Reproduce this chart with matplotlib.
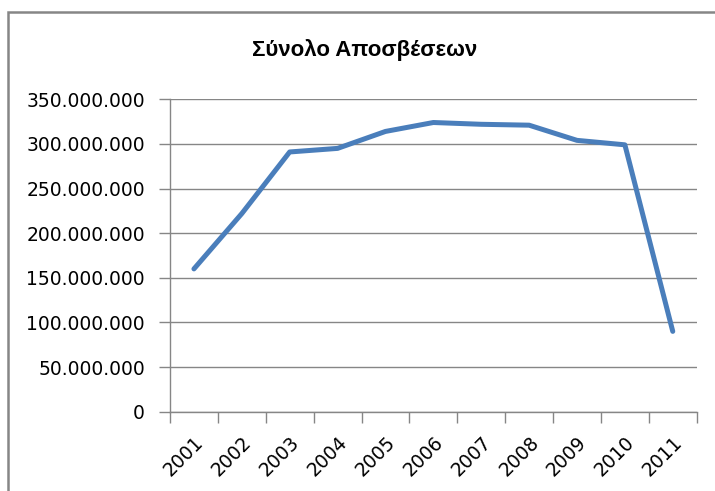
import matplotlib.pyplot as plt
from matplotlib.patches import Rectangle
from matplotlib.ticker import FuncFormatter, FixedLocator
from matplotlib.transforms import ScaledTranslation

years = ["2001", "2002", "2003", "2004", "2005", "2006",
         "2007", "2008", "2009", "2010", "2011"]
# total depreciation per year (euro)
depreciation = [160_000_000, 222_000_000, 291_000_000, 295_000_000, 314_000_000,
                324_000_000, 322_000_000, 321_000_000, 304_000_000, 299_000_000,
                90_000_000]
y_ticks = [0, 50_000_000, 100_000_000, 150_000_000, 200_000_000,
           250_000_000, 300_000_000, 350_000_000]

plt.rcParams["font.family"] = ["DejaVu Sans"]

fig = plt.figure(figsize=(7.15, 4.91), dpi=100)

# chart frame (only left and top edges fall inside the image)
frame = Rectangle((8 / 715, -0.1), 1.2, 1 - 12 / 491 + 0.1,
                  transform=fig.transFigure, fill=False,
                  edgecolor="#868686", linewidth=1.8)
fig.add_artist(frame)

ax = fig.add_axes([170 / 715, 1 - 411.7 / 491, (696.7 - 170) / 715,
                   (411.7 - 99.3) / 491])

x = list(range(len(years)))
ax.plot(x, depreciation, color="#4A7EBB", linewidth=3.6,
        solid_joinstyle="round", solid_capstyle="round", zorder=3)

ax.set_xlim(-0.5, len(years) - 0.5)
ax.set_ylim(0, 350_000_000)

ax.yaxis.set_major_locator(FixedLocator(y_ticks))
ax.yaxis.set_major_formatter(
    FuncFormatter(lambda v, p: f"{int(v):,}".replace(",", ".")))
ax.grid(axis="y", color="#868686", linewidth=1.0)
ax.set_axisbelow(True)

# category axis: tick marks between categories, labels at the centres
ax.set_xticks([i - 0.5 for i in range(len(years) + 1)])
ax.set_xticklabels([])
ax.set_xticks(x, minor=True)
ax.set_xticklabels(years, minor=True, rotation=45, ha="right",
                   rotation_mode="anchor", fontsize=13.5)
shift = ScaledTranslation(4 / 100, 0, fig.dpi_scale_trans)
for lbl in ax.get_xticklabels(minor=True):
    lbl.set_transform(lbl.get_transform() + shift)
ax.tick_params(axis="x", which="major", length=8, color="#868686", width=1.0)
ax.tick_params(axis="x", which="minor", length=0, pad=15)
ax.tick_params(axis="y", length=8, color="#868686", width=1.0,
               labelsize=13.5, pad=10)

for side in ["top", "right"]:
    ax.spines[side].set_visible(False)
for side in ["left", "bottom"]:
    ax.spines[side].set_color("#868686")
    ax.spines[side].set_linewidth(1.0)

fig.text(365 / 715, 1 - 50 / 491, "Σύνολο Αποσβέσεων", ha="center",
         va="center", fontsize=16, fontweight="bold",
         family=["Liberation Sans", "DejaVu Sans"])

fig.savefig("out.png", dpi=100)
